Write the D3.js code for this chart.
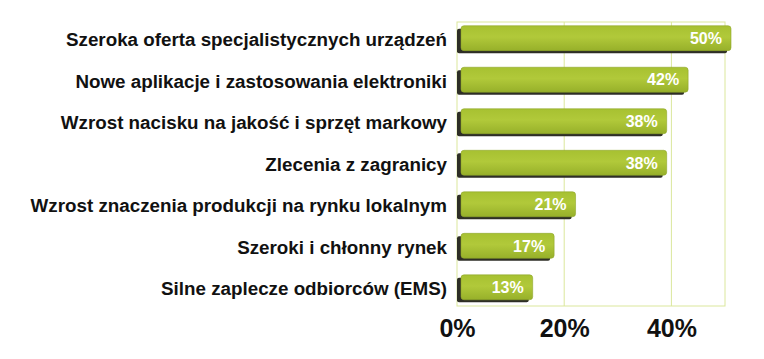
<!DOCTYPE html>
<html><head><meta charset="utf-8">
<script src="https://cdn.jsdelivr.net/npm/d3@7"></script>
<style>body{margin:0;background:#fff}svg{display:block}</style>
</head><body>
<script>
const categories = [
  "Szeroka oferta specjalistycznych urządzeń",
  "Nowe aplikacje i zastosowania elektroniki",
  "Wzrost nacisku na jakość i sprzęt markowy",
  "Zlecenia z zagranicy",
  "Wzrost znaczenia produkcji na rynku lokalnym",
  "Szeroki i chłonny rynek",
  "Silne zaplecze odbiorców (EMS)"
];
const values = [50, 42, 38, 38, 21, 17, 13];
const tickValues = [0, 20, 40];

const W = 764, H = 359;
const svg = d3.select("body").append("svg").attr("width", W).attr("height", H);
const defs = svg.append("defs");
const g1 = defs.append("linearGradient").attr("id","face").attr("x1",0).attr("y1",0).attr("x2",0).attr("y2",1);
g1.append("stop").attr("offset","0%").attr("stop-color","#a7c131");
g1.append("stop").attr("offset","45%").attr("stop-color","#b1c93a");
g1.append("stop").attr("offset","100%").attr("stop-color","#97b02a");

const x = d3.scaleLinear().domain([0, 50]).range([457, 725]);
const y = d3.scaleBand().domain(categories).range([22, 306]).paddingInner(0.34).paddingOuter(0.09);

const grid = "#dbe79c";
svg.append("g").selectAll("line").data([20, 40]).join("line")
  .attr("x1", d => x(d)).attr("x2", d => x(d)).attr("y1", 22).attr("y2", 306)
  .attr("stroke", grid).attr("stroke-width", 1);
svg.append("rect").attr("x", x(0)).attr("y", 22).attr("width", x(50) - x(0)).attr("height", 284)
  .attr("fill", "none").attr("stroke", grid).attr("stroke-width", 1);

const bars = svg.append("g").selectAll("g").data(values).join("g");
const bh = y.bandwidth();
// shadow / side
bars.append("rect")
  .attr("x", x(0)).attr("y", (d, i) => y(categories[i]) + 3)
  .attr("width", d => x(d) - x(0) + 2).attr("height", bh - 3)
  .attr("rx", 2).attr("fill", "#2e2e26");
// face
bars.append("rect")
  .attr("x", x(0) + 4).attr("y", (d, i) => y(categories[i]))
  .attr("width", d => x(d) - x(0) + 2).attr("height", bh - 2.5)
  .attr("rx", 3).attr("fill", "url(#face)").attr("stroke", "#8ea62a").attr("stroke-width", 0.6);
// value labels
bars.append("text")
  .attr("x", d => x(d) - 3).attr("y", (d, i) => y(categories[i]) + (bh - 2.5) / 2)
  .attr("dy", "0.36em").attr("text-anchor", "end")
  .attr("font-family", "Liberation Sans, Arial, sans-serif").attr("font-weight", "bold")
  .attr("font-size", 16).attr("fill", "#fff")
  .text(d => d + "%");

// category labels
svg.append("g").selectAll("text").data(categories).join("text")
  .attr("x", 447).attr("y", d => y(d) + bh / 2)
  .attr("dy", "0.36em").attr("text-anchor", "end")
  .attr("font-family", "Liberation Sans, Arial, sans-serif").attr("font-weight", "bold")
  .attr("font-size", 18.8).attr("fill", "#111")
  .text(d => d);

// x axis
const ax = svg.append("g").attr("transform", "translate(0,306)")
  .call(d3.axisBottom(x).tickValues(tickValues).tickFormat(d => d + "%").tickSize(0).tickPadding(13));
ax.select(".domain").remove();
ax.selectAll("text").attr("font-family", "Liberation Sans, Arial, sans-serif")
  .attr("font-weight", "bold").attr("font-size", 25).attr("fill", "#111");
</script>
</body></html>
